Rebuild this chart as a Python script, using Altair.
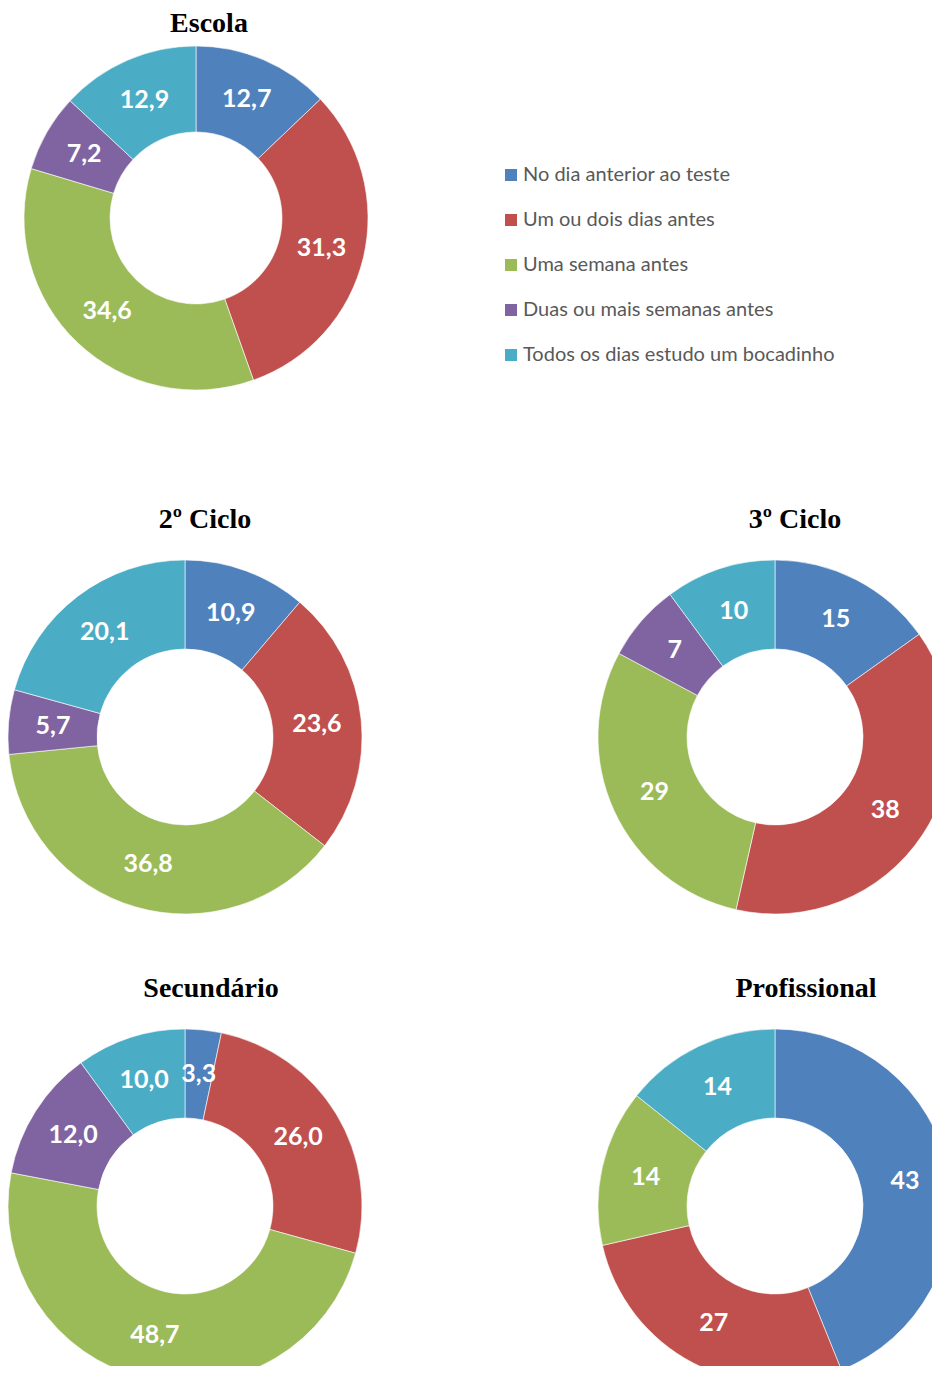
import altair as alt
import pandas as pd

categories = [
    "No dia anterior ao teste",
    "Um ou dois dias antes",
    "Uma semana antes",
    "Duas ou mais semanas antes",
    "Todos os dias estudo um bocadinho",
]
colors = ["#4F81BD", "#C0504D", "#9BBB59", "#8064A2", "#4BACC6"]

escola = [12.7, 31.3, 34.6, 7.2, 12.9]
ciclo2 = [10.9, 23.6, 36.8, 5.7, 20.1]
ciclo3 = [15, 38, 29, 7, 10]
secundario = [3.3, 26.0, 48.7, 12.0, 10.0]
profissional = [43, 27, 14, 0, 14]

titles = ["Escola", "2º Ciclo", "3º Ciclo", "Secundário", "Profissional"]

color_scale = alt.Scale(domain=categories, range=colors)
legend = alt.Legend(
    title=None,
    orient="none",
    legendX=493,
    legendY=157,
    symbolType="square",
    symbolSize=144,
    symbolStrokeWidth=0,
    labelFont="Lato",
    labelFontSize=20,
    labelColor="#595959",
    labelOffset=2,
    rowPadding=25,
    labelLimit=400,
)


def fmt(v, dec):
    if dec == 0:
        return f"{v:.0f}"
    return f"{v:.1f}".replace(".", ",")


def donut(values, dec, cx, cy, r_out, r_in, title, tx, ty):
    df = pd.DataFrame({
        "cat": categories,
        "value": values,
        "order": list(range(len(categories))),
        "label": [fmt(v, dec) for v in values],
    })
    base = alt.Chart(df).transform_filter("datum.value > 0")
    theta = alt.Theta("value:Q", stack="normalize")
    arc = base.mark_arc(radius=r_out, radius2=r_in, stroke="white", strokeWidth=0.6).encode(
        theta=theta,
        order=alt.Order("order:Q"),
        color=alt.Color("cat:N", scale=color_scale, sort=categories, legend=legend),
        x=alt.value(cx),
        y=alt.value(cy),
    )
    text = base.mark_text(
        radius=(r_out + r_in) / 2,
        font="Lato",
        fontWeight="bold",
        fontSize=25,
        color="white",
    ).encode(
        theta=theta,
        order=alt.Order("order:Q"),
        detail="cat:N",
        text="label:N",
        x=alt.value(cx),
        y=alt.value(cy),
    )
    ttl = alt.Chart(pd.DataFrame({"t": [title]})).mark_text(
        font="Liberation Serif",
        fontWeight="bold",
        fontSize=28,
        color="black",
        baseline="middle",
    ).encode(text="t:N", x=alt.value(tx), y=alt.value(ty))
    return [arc, text, ttl]


layers = []
layers += donut(escola, 1, 188, 210, 172, 86, titles[0], 201, 16)
layers += donut(ciclo2, 1, 177, 729, 177, 88, titles[1], 197, 512)
layers += donut(ciclo3, 0, 767, 729, 177, 88, titles[2], 787, 512)
layers += donut(secundario, 1, 177, 1198, 177, 88, titles[3], 203, 981)
layers += donut(profissional, 0, 767, 1198, 177, 88, titles[4], 798, 981)

chart = (
    alt.layer(*layers)
    .properties(width=924, height=1358, padding=0, autosize=alt.AutoSizeParams(type="none"))
    .configure_view(stroke=None)
)

chart.save("out.html", embed_options={"renderer": "svg", "actions": False})
